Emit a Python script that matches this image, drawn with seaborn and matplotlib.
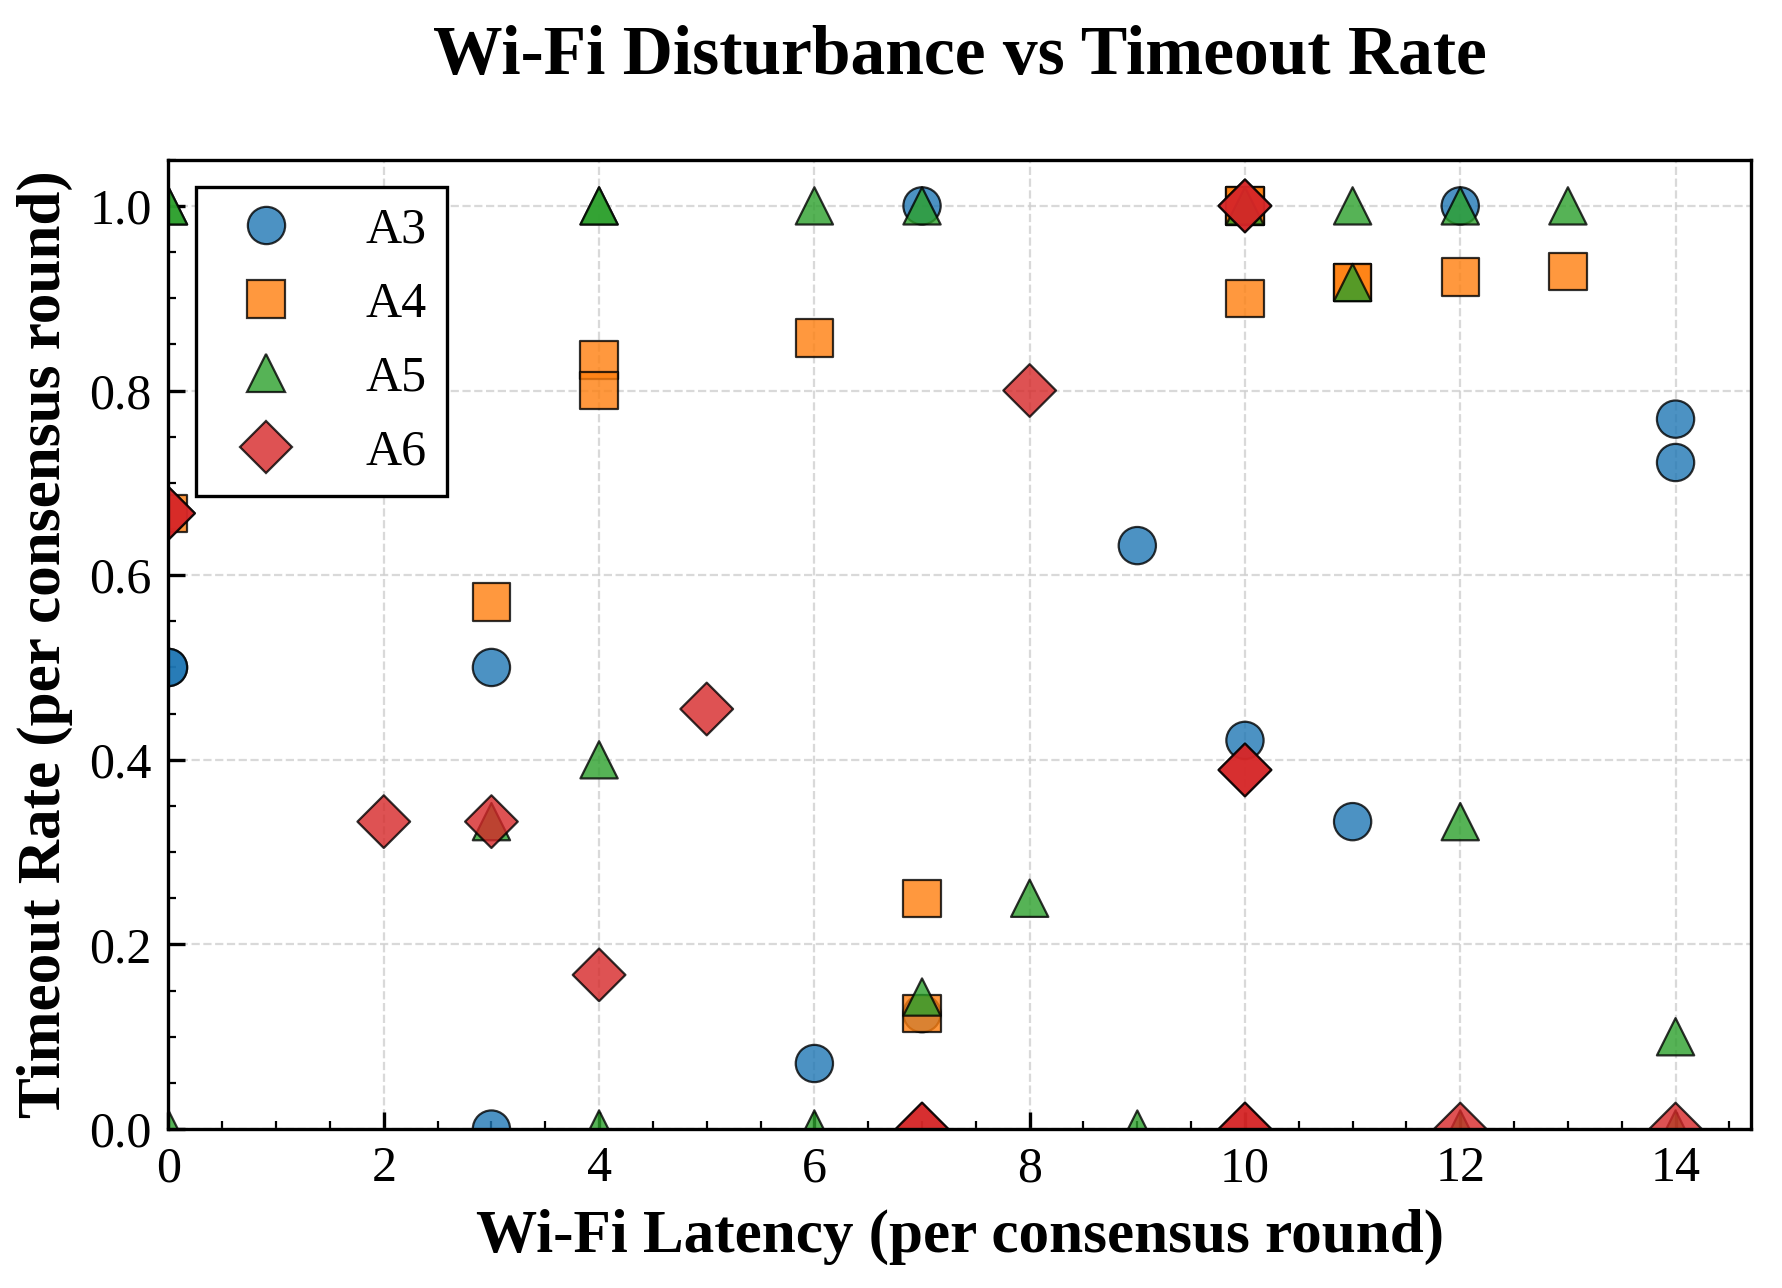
import numpy as np
import pandas as pd
import seaborn as sns
import matplotlib.pyplot as plt
from matplotlib.ticker import MultipleLocator

# latency (x) and timeout rate (y) per group
a3_x = [0, 0, 3, 3, 6, 7, 7, 9, 10, 11, 12, 14, 14]
a3_y = [0.5, 0.5, 0.5, 0.0, 0.071, 1.0, 0.125, 0.632, 0.421, 0.333, 1.0, 0.769, 0.722]

a4_x = [0, 3, 4, 4, 6, 7, 7, 10, 10, 10, 11, 11, 12, 13]
a4_y = [0.667, 0.571, 0.833, 0.8, 0.857, 0.25, 0.125, 1.0, 1.0, 0.9, 0.917, 0.917, 0.923, 0.929]

a5_x = [0, 0, 0, 3, 4, 4, 4, 4, 6, 6, 7, 7, 8, 9, 10, 11, 11, 12, 12, 12, 13, 14, 14]
a5_y = [1.0, 1.0, 0.0, 0.333, 1.0, 1.0, 0.4, 0.0, 1.0, 0.0, 1.0, 0.143, 0.25, 0.0, 1.0,
        1.0, 0.917, 1.0, 0.333, 0.0, 1.0, 0.1, 0.0]

a6_x = [0, 0, 2, 3, 4, 5, 7, 7, 8, 10, 10, 10, 10, 10, 10, 12, 14]
a6_y = [0.667, 0.667, 0.333, 0.333, 0.167, 0.455, 0.0, 0.0, 0.8, 1.0, 1.0, 0.389, 0.389,
        0.0, 0.0, 0.0, 0.0]

groups = ["A3", "A4", "A5", "A6"]
markers = {"A3": "o", "A4": "s", "A5": "^", "A6": "D"}
palette = dict(zip(groups, sns.color_palette("tab10", 4)))

df = pd.concat([
    pd.DataFrame({"x": a3_x, "y": a3_y, "group": "A3"}),
    pd.DataFrame({"x": a4_x, "y": a4_y, "group": "A4"}),
    pd.DataFrame({"x": a5_x, "y": a5_y, "group": "A5"}),
    pd.DataFrame({"x": a6_x, "y": a6_y, "group": "A6"}),
], ignore_index=True)

sns.set_style("white")
plt.rcParams["font.family"] = ["Liberation Serif", "DejaVu Serif"]
plt.rcParams["text.color"] = "black"
plt.rcParams["axes.labelcolor"] = "black"
plt.rcParams["xtick.color"] = "black"
plt.rcParams["ytick.color"] = "black"

fig, ax = plt.subplots(figsize=(8.915, 6.44), dpi=200)
fig.subplots_adjust(left=0.0945, right=0.982, top=0.876, bottom=0.1234)

sns.scatterplot(data=df, x="x", y="y", hue="group", style="group",
                markers=markers, palette=palette, s=180, alpha=0.8,
                edgecolor="black", linewidth=0.8, ax=ax)

ax.set_xlim(0, 14.7)
ax.set_ylim(0, 1.05)

ax.xaxis.set_major_locator(MultipleLocator(2))
ax.xaxis.set_minor_locator(MultipleLocator(0.5))
ax.yaxis.set_major_locator(MultipleLocator(0.2))
ax.yaxis.set_minor_locator(MultipleLocator(0.05))
ax.yaxis.set_major_formatter(plt.FormatStrFormatter("%.1f"))
ax.tick_params(which="both", direction="in", labelsize=18, bottom=True, left=True,
               colors="black", pad=6)
ax.tick_params(which="major", length=6, width=1.2)
ax.tick_params(which="minor", length=3, width=0.8)

ax.grid(True, which="major", linestyle="--", color="#d0d0d0", linewidth=0.8, alpha=0.8)
for sp in ax.spines.values():
    sp.set_visible(True)
    sp.set_color("black")
    sp.set_linewidth(1.2)

ax.set_title("Wi-Fi Disturbance vs Timeout Rate", fontsize=25, fontweight="bold",
             pad=31, color="black")
ax.set_xlabel("Wi-Fi Latency (per consensus round)", fontsize=22, fontweight="bold",
              labelpad=6)
ax.set_ylabel("Timeout Rate (per consensus round)", fontsize=22, fontweight="bold",
              labelpad=6)

leg = ax.legend(loc="upper left", fontsize=18, frameon=True, fancybox=False,
                edgecolor="black", framealpha=1, labelspacing=0.55,
                handletextpad=1.0, borderaxespad=0.55, markerscale=1.0)
leg.get_frame().set_linewidth(1.2)

fig.savefig("out.png", dpi=200)
